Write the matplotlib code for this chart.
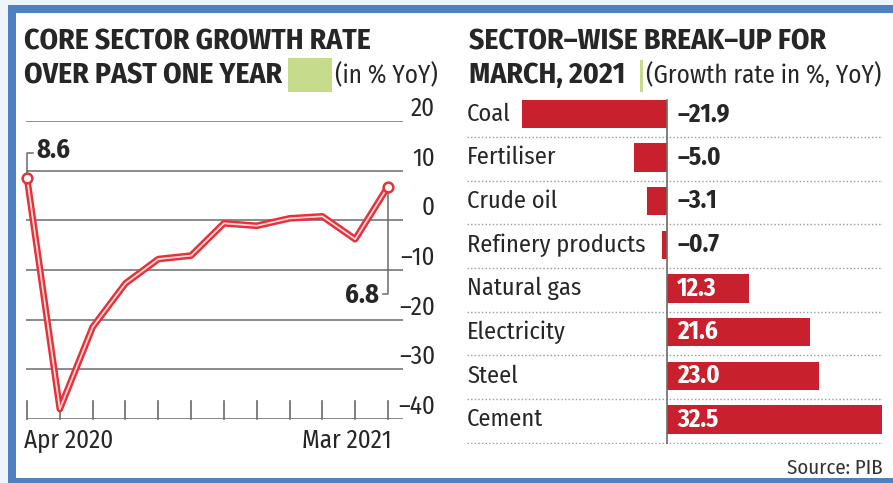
import matplotlib
matplotlib.use("Agg")
import matplotlib.pyplot as plt
from matplotlib.patches import Rectangle
from matplotlib import font_manager

# ---- data -------------------------------------------------------------
months = ["Apr 2020", "May 2020", "Jun 2020", "Jul 2020", "Aug 2020", "Sep 2020",
          "Oct 2020", "Nov 2020", "Dec 2020", "Jan 2021", "Feb 2021", "Mar 2021"]
core_growth = [8.6, -38.0, -21.5, -12.7, -7.8, -7.1, -0.6, -1.1, 0.4, 0.8, -3.8, 6.8]
y_ticks = [20, 10, 0, -10, -20, -30, -40]

sectors = ["Coal", "Fertiliser", "Crude oil", "Refinery products",
           "Natural gas", "Electricity", "Steel", "Cement"]
sector_growth = [-21.9, -5.0, -3.1, -0.7, 12.3, 21.6, 23.0, 32.5]

# ---- fonts / colours ----------------------------------------------------
names = {f.name for f in font_manager.fontManager.ttflist}
COND = next((n for n in ["Fira Sans Condensed", "Roboto Condensed", "PT Sans Narrow",
                         "IBM Plex Sans Condensed", "Liberation Sans Narrow"]
             if n in names), "DejaVu Sans")
TXT = "#262626"
RED_LINE = "#e5323a"
RED_BAR = "#c8202c"
GRID = "#6b6b6b"
GREEN = "#c6dc8c"

W, H = 893, 483
fig = plt.figure(figsize=(W / 100, H / 100), dpi=100)
fig.patch.set_facecolor("#eef4fb")


def ax_px(left, top, right, bottom):
    return fig.add_axes([left / W, 1 - bottom / H, (right - left) / W, (bottom - top) / H])


def fx(x):
    return x / W


def fy(y):
    return 1 - y / H


# frame
fig.patches.append(Rectangle((fx(8), fy(490)), fx(900) - fx(8), fy(5) - fy(490),
                             transform=fig.transFigure, facecolor="#4f80bf",
                             edgecolor="none", zorder=-3))
fig.patches.append(Rectangle((fx(16), fy(478)), fx(900) - fx(16), fy(13) - fy(478),
                             transform=fig.transFigure, facecolor="white",
                             edgecolor="none", zorder=-2))

# ---- left: core sector line -------------------------------------------
axL = ax_px(26, 121, 403, 419)
x = list(range(len(months)))
axL.set_xlim(-0.03, 11.457)
axL.set_ylim(-40, 20)
for s in axL.spines.values():
    s.set_visible(False)
axL.set_xticks([])
axL.set_yticks([])
axL.patch.set_alpha(0)
for v in y_ticks:
    axL.axhline(v, color=GRID, lw=1.1, zorder=1)
    axL.annotate(f"{v}".replace("-", "\u2013") if v < 0 else f"{v}",
                 xy=(1, v), xycoords=("axes fraction", "data"),
                 xytext=(32, 0), textcoords="offset pixels",
                 ha="right", va="bottom", fontsize=18, family=COND, color=TXT)
# month ticks rising from the baseline
for xi in x:
    axL.plot([xi, xi], [-40, -36.4], color=GRID, lw=1.2, zorder=1, clip_on=False)

axL.plot(x, core_growth, color=RED_LINE, lw=4.8, zorder=3, solid_joinstyle="round",
         solid_capstyle="butt", clip_on=False)
axL.plot(x, core_growth, color="#ffd6d6", lw=1.3, zorder=4, solid_joinstyle="round",
         clip_on=False)
axL.plot([x[0], x[-1]], [core_growth[0], core_growth[-1]], "o", ms=7, mfc="white",
         mec=RED_LINE, mew=1.8, zorder=5, clip_on=False)

# callouts
axL.plot([x[0], x[0], x[0] + 0.18], [core_growth[0], core_growth[0] + 5.0, core_growth[0] + 5.0],
         color=GRID, lw=1.1, zorder=2, clip_on=False)
axL.annotate(f"{core_growth[0]}", xy=(x[0], core_growth[0]), xytext=(9, 14),
             textcoords="offset pixels", ha="left", va="bottom", fontsize=19,
             fontweight="bold", family=COND, color=TXT)
axL.plot([x[-1], x[-1], x[-1] - 0.15], [core_growth[-1], -14.8, -14.8],
         color=GRID, lw=1.1, zorder=2, clip_on=False)
axL.annotate(f"{core_growth[-1]}", xy=(x[-1], -14.8), xytext=(-9, -1),
             textcoords="offset pixels", ha="right", va="center", fontsize=19,
             fontweight="bold", family=COND, color=TXT)

axL.annotate(months[0], xy=(x[0], -40), xytext=(-3, -9), textcoords="offset pixels",
             ha="left", va="top", fontsize=18, family=COND, color=TXT)
axL.annotate(months[-1], xy=(x[-1], -40), xytext=(4, -9), textcoords="offset pixels",
             ha="right", va="top", fontsize=18, family=COND, color=TXT)

# left title
fig.text(fx(24), fy(50), "CORE SECTOR GROWTH RATE", fontsize=21.3, fontweight="bold",
         family=COND, color=TXT, ha="left", va="baseline")
fig.text(fx(24), fy(83), "OVER PAST ONE YEAR", fontsize=21.3, fontweight="bold",
         family=COND, color=TXT, ha="left", va="baseline")
fig.patches.append(Rectangle((fx(288), fy(92)), fx(332) - fx(288), fy(58) - fy(92),
                             transform=fig.transFigure, facecolor=GREEN,
                             edgecolor="none", zorder=1))
fig.text(fx(335), fy(83), "(in % YoY)", fontsize=18, family=COND, color=TXT,
         ha="left", va="baseline")

# ---- right: sector bars -----------------------------------------------
axR = ax_px(467, 88, 883, 444)
axR.set_xlim(-30.2, 32.6)
axR.set_ylim(7.56, -0.596)
for s in axR.spines.values():
    s.set_visible(False)
axR.set_xticks([])
axR.set_yticks([])
axR.patch.set_alpha(0)

rows = list(range(len(sectors)))
axR.barh(rows, sector_growth, height=0.65, color=RED_BAR, zorder=2)
axR.plot([0, 0], [-0.33, 7.56], color=GRID, lw=1.2, zorder=3)
for r in rows:
    axR.axhline(r + 0.53, color="#9a9a9a", lw=1.0, ls=(0, (1, 1.6)), zorder=1)
for r, (name, val) in enumerate(zip(sectors, sector_growth)):
    axR.text(-30.2, r, name, ha="left", va="center", fontsize=17.5, family=COND, color=TXT)
    label = f"{val:.1f}".replace("-", "\u2013")
    axR.annotate(label, xy=(0, r), xytext=(10, 0), textcoords="offset pixels",
                 ha="left", va="center", fontsize=18, fontweight="bold", family=COND,
                 color="white" if val > 0 else TXT, zorder=4)

# right title
fig.text(fx(469), fy(50), "SECTOR\u2013WISE BREAK\u2013UP FOR", fontsize=21.3,
         fontweight="bold", family=COND, color=TXT, ha="left", va="baseline")
fig.text(fx(469), fy(83), "MARCH, 2021", fontsize=21.3, fontweight="bold",
         family=COND, color=TXT, ha="left", va="baseline")
fig.patches.append(Rectangle((fx(640), fy(92)), fx(643) - fx(640), fy(60) - fy(92),
                             transform=fig.transFigure, facecolor=GREEN,
                             edgecolor="none", zorder=1))
fig.text(fx(646), fy(83), "(Growth rate in %, YoY)", fontsize=18, family=COND,
         color=TXT, ha="left", va="baseline")

fig.text(fx(883), fy(474), "Source: PIB", fontsize=15, family=COND, color="#333333",
         ha="right", va="baseline")

fig.savefig("out.png", dpi=100, facecolor=fig.get_facecolor())
